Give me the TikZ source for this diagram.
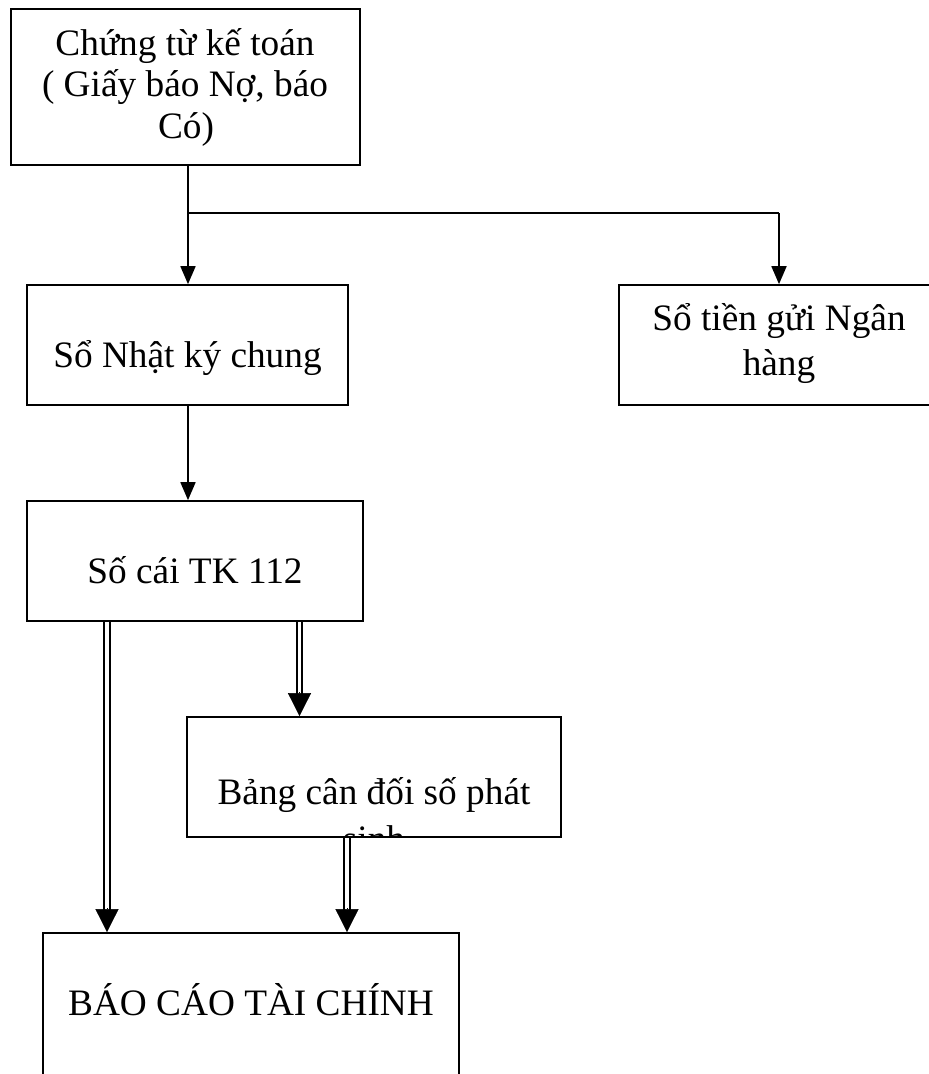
\documentclass[tikz,border=0pt]{standalone}
\usepackage{fontspec}
\setmainfont{Liberation Serif}
\usetikzlibrary{arrows.meta,calc}
\begin{document}
\begin{tikzpicture}[x=1pt,y=-1pt,
  box/.style={draw, line width=1.7pt, inner sep=0pt, anchor=center},
  lbl/.style={anchor=base, inner sep=0pt, font=\fontsize{37.3}{44}\selectfont},
  conn/.style={line width=1.8pt, -{Triangle[width=15pt,length=18pt]}},
  dbl/.style={line width=1.9pt, double, double distance=3.4pt, shorten >=21pt},
  dtip/.style={line width=0.5pt, -{Triangle[width=23pt,length=23pt]}}]
\useasboundingbox (0,0) rectangle (929,1074);
\clip (0,0) rectangle (929,1074);
\fill[white] (0,0) rectangle (929,1074);

% boxes
\node[box, minimum width=349pt, minimum height=156pt] (ct) at (185.5,87) {};
\node[box, minimum width=321pt, minimum height=120pt] (nkc) at (187.5,345) {};
\node[box, minimum width=320pt, minimum height=120pt] (snh) at (779,345) {};
\node[box, minimum width=336pt, minimum height=120pt] (socai) at (195,561) {};
\node[box, minimum width=374pt, minimum height=120pt] (bang) at (374,777) {};
\node[box, minimum width=416pt, minimum height=160pt] (bctc) at (251,1013) {};

% texts
\node[lbl] (ct1) at (185,55) {Chứng từ kế toán};
\node[lbl] (ct2) at (185,96.5) {( Giấy báo Nợ, báo};
\node[lbl] (ct3) at (186,138) {Có)};
\node[lbl] (nkct) at (187.5,367) {Sổ Nhật ký chung};
\node[lbl] (snh1) at (779,330) {Sổ tiền gửi Ngân};
\node[lbl] (snh2) at (779,375) {hàng};
\node[lbl] (socait) at (195,583) {Số cái TK 112};
\begin{scope}
  \clip (187,717) rectangle (561,836);
  \node[lbl] (bang1) at (374,804) {Bảng cân đối số phát};
  \node[lbl] (bang2) at (374,851) {sinh};
\end{scope}
\node[lbl] (bctct) at (251,1015) {BÁO CÁO TÀI CHÍNH};

% connectors
\coordinate (j) at (188,213);
\coordinate (jr) at (779,213);
\draw[conn] (ct.south -| j) -- (nkc.north -| j);
\draw[line width=1.8pt] (j) -- (jr);
\draw[conn] (jr) -- (snh.north);
\draw[conn] (nkc.south -| j) -- (socai.north -| j);

% double arrows
\coordinate (xl) at (107,0);
\coordinate (xm) at (299.5,0);
\coordinate (xr) at (347,0);
\draw[dbl] (socai.south -| xl) -- (bctc.north -| xl);
\draw[dtip] ($(bctc.north -| xl)+(0,-24)$) -- (bctc.north -| xl);
\draw[dbl] (socai.south -| xm) -- (bang.north -| xm);
\draw[dtip] ($(bang.north -| xm)+(0,-24)$) -- (bang.north -| xm);
\draw[dbl] (bang.south -| xr) -- (bctc.north -| xr);
\draw[dtip] ($(bctc.north -| xr)+(0,-24)$) -- (bctc.north -| xr);
\end{tikzpicture}
\end{document}
